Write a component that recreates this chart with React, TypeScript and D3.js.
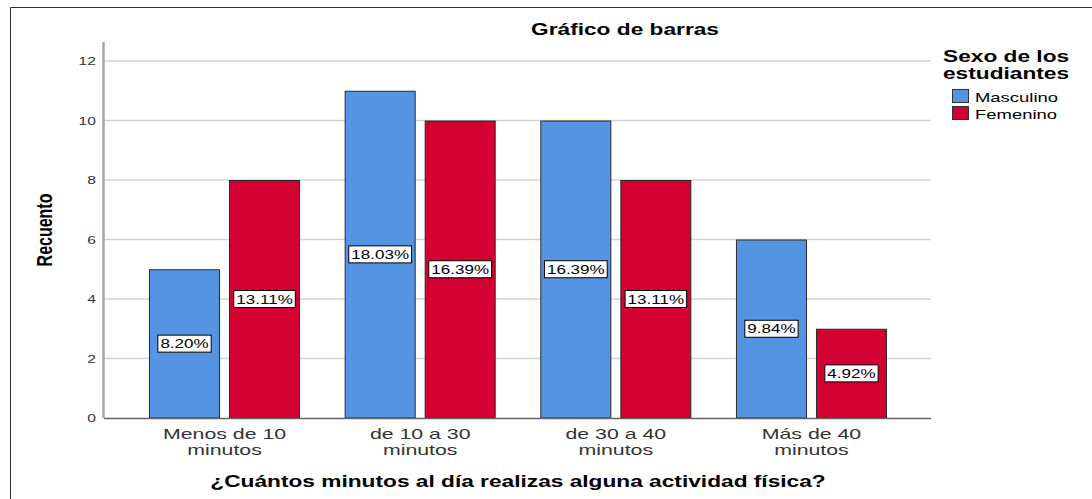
import React from "react";
import * as d3 from "d3";

const categories: string[][] = [
  ["Menos de 10", "minutos"],
  ["de 10 a 30", "minutos"],
  ["de 30 a 40", "minutos"],
  ["Más de 40", "minutos"],
];
const seriesNames = ["Masculino", "Femenino"];
const masculino = [5, 11, 10, 6];
const femenino = [8, 10, 8, 3];
const masculinoPct = ["8.20%", "18.03%", "16.39%", "9.84%"];
const femeninoPct = ["13.11%", "16.39%", "13.11%", "4.92%"];
const yTicks = [0, 2, 4, 6, 8, 10, 12];

const W = 1092;
const H = 499;
const SX = 1.42;
const FONT = "'Liberation Sans', Arial, sans-serif";
const COLORS = ["#5594E3", "#D30032"];

function measure(text: string, font: string): number {
  if (typeof document === "undefined") return text.length * 7;
  const c = document.createElement("canvas");
  const ctx = c.getContext("2d");
  if (!ctx) return text.length * 7;
  ctx.font = font;
  return ctx.measureText(text).width;
}

function SText(props: {
  x: number;
  y: number;
  anchor?: string;
  size: number;
  weight?: string;
  fill?: string;
  children: React.ReactNode;
}) {
  const { x, y, anchor = "start", size, weight = "normal", fill = "#000" } = props;
  return (
    <text
      transform={`translate(${x},${y}) scale(${SX},1)`}
      textAnchor={anchor}
      fontFamily={FONT}
      fontSize={size}
      fontWeight={weight}
      fill={fill}
    >
      {props.children}
    </text>
  );
}

export default function App() {
  const plotLeft = 104;
  const plotRight = 931;
  const y0 = 418;
  const axisTop = 42;

  const x = d3
    .scaleBand<number>()
    .domain(categories.map((_, i) => i))
    .range([126.7, 909.3])
    .paddingInner(0.228)
    .paddingOuter(0.114);
  const xs = d3
    .scaleBand<number>()
    .domain([0, 1])
    .range([0, x.bandwidth()])
    .paddingInner(0.1125);
  const y = d3.scaleLinear().domain([0, 12]).range([y0, 61]);

  const series = [
    { vals: masculino, pcts: masculinoPct },
    { vals: femenino, pcts: femeninoPct },
  ];

  return (
    <svg
      width={W}
      height={H}
      style={{ position: "absolute", left: 0, top: 0, display: "block", background: "#fff" }}
    >
      <rect x={0} y={0} width={W} height={H} fill="#fff" />
      {/* frame */}
      <line x1={10.5} y1={7.5} x2={W} y2={7.5} stroke="#333" strokeWidth={1} />
      <line x1={10.5} y1={7.5} x2={10.5} y2={H} stroke="#333" strokeWidth={1} />

      {/* title */}
      <SText x={625} y={35} anchor="middle" size={16} weight="bold">
        Gráfico de barras
      </SText>

      {/* gridlines */}
      {yTicks
        .filter((t) => t > 0)
        .map((t) => (
          <line
            key={t}
            x1={plotLeft}
            x2={plotRight}
            y1={y(t)}
            y2={y(t)}
            stroke="#d4d4d4"
            strokeWidth={1.5}
          />
        ))}

      {/* y axis */}
      <line x1={103.5} x2={103.5} y1={axisTop} y2={y0} stroke="#a6a6a6" strokeWidth={2.5} />
      {yTicks.map((t) => (
        <SText key={t} x={96} y={y(t) + 4} anchor="end" size={11} fill="#333">
          {t}
        </SText>
      ))}
      <text
        transform={`translate(52,${230}) scale(${SX},1) rotate(-90)`}
        textAnchor="middle"
        fontFamily={FONT}
        fontSize={16}
        fontWeight="bold"
        fill="#000"
      >
        Recuento
      </text>

      {/* bars */}
      {categories.map((_, ci) => (
        <g key={ci} transform={`translate(${x(ci)},0)`}>
          {series.map((s, si) => (
            <rect
              key={si}
              x={(xs(si) as number) + 0.5}
              y={y(s.vals[ci]) + 0.5}
              width={xs.bandwidth() - 1}
              height={y0 - y(s.vals[ci]) - 0.5}
              fill={COLORS[si]}
              stroke="#2b2b2b"
              strokeWidth={1}
            />
          ))}
        </g>
      ))}

      {/* x axis line */}
      <line x1={plotLeft} x2={plotRight} y1={y0 + 0.5} y2={y0 + 0.5} stroke="#666" strokeWidth={1.6} />

      {/* percent labels */}
      {categories.map((_, ci) =>
        series.map((s, si) => {
          const cx = (x(ci) as number) + (xs(si) as number) + xs.bandwidth() / 2;
          const cy = (y(s.vals[ci]) + y0) / 2;
          const tw = measure(s.pcts[ci], `12px ${FONT}`) * SX;
          const bw = tw + 5;
          return (
            <g key={`${ci}-${si}`}>
              <rect
                x={cx - bw / 2}
                y={cy - 8.5}
                width={bw}
                height={17}
                fill="#fff"
                stroke="#000"
                strokeWidth={1}
              />
              <SText x={cx} y={cy + 4.5} anchor="middle" size={12}>
                {s.pcts[ci]}
              </SText>
            </g>
          );
        })
      )}

      {/* x tick labels */}
      {categories.map((lines, ci) => {
        const cx = (x(ci) as number) + x.bandwidth() / 2;
        return lines.map((l, li) => (
          <SText key={`${ci}-${li}`} x={cx} y={439 + li * 16} anchor="middle" size={15} fill="#333">
            {l}
          </SText>
        ));
      })}

      {/* x axis title */}
      <SText x={518} y={487} anchor="middle" size={16} weight="bold">
        ¿Cuántos minutos al día realizas alguna actividad física?
      </SText>

      {/* legend */}
      <SText x={943} y={62} size={16} weight="bold">
        Sexo de los
      </SText>
      <SText x={943} y={79} size={16} weight="bold">
        estudiantes
      </SText>
      {seriesNames.map((n, i) => (
        <g key={n}>
          <rect
            x={952.5}
            y={89.5 + i * 17}
            width={16}
            height={13}
            fill={COLORS[i]}
            stroke="#333"
            strokeWidth={1}
          />
          <SText x={975} y={102 + i * 17} size={13} fill="#000">
            {n}
          </SText>
        </g>
      ))}
    </svg>
  );
}
